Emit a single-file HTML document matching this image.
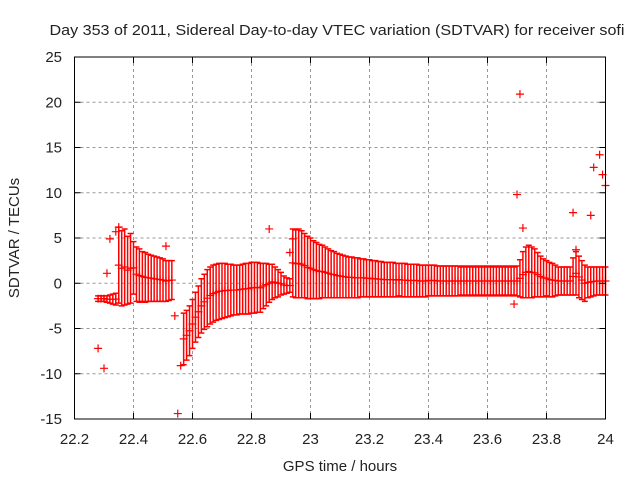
<!DOCTYPE html>
<html><head><meta charset="utf-8"><style>
body{margin:0;background:#fff}
svg{display:block;font-family:"Liberation Sans",sans-serif}
</style></head><body>
<svg id="c" width="640" height="480" xmlns="http://www.w3.org/2000/svg">
<text x="337" y="35" font-size="15" text-anchor="middle" textLength="575" lengthAdjust="spacingAndGlyphs" fill="#222">Day 353 of 2011, Sidereal Day-to-day VTEC variation (SDTVAR) for receiver sofi</text>
<text x="340" y="471" font-size="15" text-anchor="middle" fill="#222">GPS time / hours</text>
<text transform="translate(19,238) rotate(-90)" font-size="15" text-anchor="middle" fill="#222">SDTVAR / TECUs</text>
<g id="grid"></g>
<g id="marks"></g>
<rect x="74.5" y="57" width="531" height="362" fill="none" stroke="#000" stroke-width="1"/>
<g id="ticks"></g>
</svg>
<script>
const xTicks=[22.2,22.4,22.6,22.8,23,23.2,23.4,23.6,23.8,24];
const xTickLabels=["22.2","22.4","22.6","22.8","23","23.2","23.4","23.6","23.8","24"];
const yTicks=[-15,-10,-5,0,5,10,15,20,25];
const flatX=[22.28,22.29,22.30,22.31,22.32,22.33,22.34];
const flatHi=[-1.4,-1.4,-1.4,-1.4,-1.3,-1.2,-1.1];
const flatLo=[-2.0,-2.0,-2.0,-2.1,-2.2,-2.3,-2.4];
const seg1X=[22.35,22.37,22.39,22.41,22.43,22.45,22.47,22.49,22.51,22.53];
const seg1Hi=[6.2,6.0,5.5,4.0,3.5,3.2,3.0,2.8,2.5,2.5];
const seg1Lo=[-2.2,-2.4,-2.2,-2.0,-2.0,-2.0,-2.0,-2.0,-2.0,-1.8];
const seg1bX=[22.36,22.38,22.40,22.42,22.44,22.46,22.48,22.50,22.52];
const seg1bHi=[5.8,5.2,4.6,3.8,3.4,3.1,2.9,2.7,2.5];
const seg1bLo=[-2.5,-2.3,-1.2,-2.1,-2.1,-2.0,-2.0,-2.0,-1.9];
const seg2X=[22.57,22.59,22.61,22.63,22.65,22.67,22.69,22.71,22.73,22.75,22.77,22.79,22.81,22.83,22.85,22.87,22.89,22.91,22.93];
const seg2Hi=[-3.3,-2.5,-1.0,0.5,1.5,2.0,2.2,2.2,2.1,2.0,2.1,2.2,2.3,2.2,2.2,2.1,1.5,0.8,0.5];
const seg2Lo=[-9,-8,-6.5,-5.5,-4.8,-4.3,-4.0,-3.8,-3.6,-3.5,-3.4,-3.4,-3.3,-3.2,-2.5,-1.8,-1.5,-1.2,-1.0];
const seg2bX=[22.58,22.60,22.62,22.64,22.66,22.68,22.70,22.72,22.74,22.76,22.78,22.80,22.82,22.84,22.86,22.88,22.90,22.92];
const seg2bHi=[-3.0,-1.8,-0.3,1.0,1.8,2.1,2.2,2.1,2.0,2.0,2.2,2.3,2.3,2.2,2.1,1.8,1.2,0.6];
const seg2bLo=[-8.5,-7.2,-6.0,-5.1,-4.5,-4.1,-3.9,-3.7,-3.5,-3.4,-3.4,-3.3,-3.2,-2.8,-2.1,-1.6,-1.3,-1.1];
const seg3X=[22.94,22.96,22.98,23.00,23.02,23.04,23.06,23.08,23.10,23.12,23.14,23.16,23.18,23.20,23.22,23.24,23.26,23.28,23.30,23.32,23.34,23.36,23.38,23.40,23.42,23.44,23.46,23.48,23.50,23.52,23.54,23.56,23.58,23.60,23.62,23.64,23.66,23.68,23.70,23.72,23.74,23.76,23.78,23.80,23.82,23.84,23.86,23.88,23.90,23.92,23.94,23.96,23.98,24.00];
const seg3Hi=[6,6,5.5,5,4.5,4.2,3.8,3.5,3.2,3,2.9,2.8,2.7,2.6,2.5,2.4,2.3,2.3,2.2,2.2,2.1,2.1,2.0,2.0,2.0,1.9,1.9,1.9,1.9,1.9,1.9,1.9,1.9,1.9,1.9,1.9,1.9,1.9,1.9,3.5,4.2,3.8,3.0,2.5,2.2,1.8,1.8,1.8,3.5,2.5,1.8,1.8,1.8,1.8];
const seg3Lo=[-1.5,-1.6,-1.6,-1.7,-1.7,-1.6,-1.6,-1.6,-1.6,-1.6,-1.6,-1.6,-1.5,-1.5,-1.5,-1.5,-1.5,-1.5,-1.4,-1.5,-1.5,-1.5,-1.5,-1.4,-1.4,-1.4,-1.4,-1.4,-1.4,-1.4,-1.4,-1.4,-1.4,-1.4,-1.4,-1.4,-1.4,-1.4,-1.4,-1.6,-1.6,-1.5,-1.5,-1.4,-1.5,-1.3,-1.3,-1.3,-1.3,-1.8,-1.6,-1.4,-1.3,-1.3];
const seg3bX=[22.95,22.97,22.99,23.01,23.03,23.05,23.07,23.09,23.11,23.13,23.15,23.17,23.19,23.21,23.23,23.25,23.27,23.29,23.31,23.33,23.35,23.37,23.39,23.41,23.43,23.45,23.47,23.49,23.51,23.53,23.55,23.57,23.59,23.61,23.63,23.65,23.67,23.69,23.71,23.73,23.75,23.77,23.79,23.81,23.83,23.85,23.87,23.89,23.91,23.93,23.95,23.97,23.99];
const seg3bHi=[5.9,5.8,5.2,4.7,4.3,4.0,3.6,3.3,3.1,2.9,2.8,2.7,2.6,2.5,2.4,2.3,2.3,2.2,2.2,2.1,2.1,2.0,2.0,2.0,1.9,1.9,1.9,1.9,1.8,1.8,1.8,1.8,1.8,1.8,1.8,1.8,1.8,1.8,2.6,4.0,4.0,3.4,2.7,2.3,2.0,1.8,1.8,2.8,3.0,2.0,1.8,1.8,1.8];
const seg3bLo=[-1.6,-1.6,-1.7,-1.7,-1.7,-1.6,-1.6,-1.6,-1.6,-1.6,-1.6,-1.5,-1.5,-1.5,-1.5,-1.5,-1.5,-1.5,-1.5,-1.5,-1.5,-1.5,-1.5,-1.4,-1.4,-1.4,-1.4,-1.4,-1.3,-1.3,-1.3,-1.3,-1.3,-1.3,-1.3,-1.3,-1.3,-1.3,-1.5,-1.6,-1.6,-1.5,-1.5,-1.5,-1.4,-1.3,-1.3,-1.3,-1.6,-2.0,-1.5,-1.3,-1.3];
const outX=[22.28,22.30,22.31,22.32,22.34,22.35,22.51,22.54,22.55,22.56,22.86,22.93,22.94,23.69,23.70,23.71,23.72,23.89,23.90,23.95,23.96,23.98,23.99,24.0];
const outY=[-7.2,-9.4,1.1,4.9,5.7,6.2,4.1,-3.6,-14.4,-9.1,6.0,3.4,4.9,-2.3,9.8,20.9,6.1,7.8,3.7,7.5,12.8,14.2,12.0,10.8];

const X0=74.5,X1=605.5,Y0=419,Y1=57;
const sx=v=>X0+(v-22.2)/(24-22.2)*(X1-X0);
const sy=v=>Y0-(v+15)/40*(Y0-Y1);
const NS="http://www.w3.org/2000/svg";
function mk(tag,at,parent){const e=document.createElementNS(NS,tag);for(const k in at)e.setAttribute(k,at[k]);parent.appendChild(e);return e;}
const grid=document.getElementById('grid'),ticks=document.getElementById('ticks'),marks=document.getElementById('marks');
xTicks.forEach((t,i)=>{const x=sx(t);
 if(i>0&&i<xTicks.length-1){const g=mk('line',{x1:x,x2:x,y1:Y1,y2:Y0,stroke:'#999','stroke-dasharray':'3,3'},grid);
 
 }
 mk('line',{x1:x,x2:x,y1:Y0,y2:Y0-6,stroke:'#000'},ticks);mk('line',{x1:x,x2:x,y1:Y1,y2:Y1+6,stroke:'#000'},ticks);
 const l=mk('text',{x:x,y:444,'font-size':15,'text-anchor':'middle',fill:'#222'},ticks);l.textContent=xTickLabels[i];
 
 });
yTicks.forEach((t,i)=>{const y=sy(t);
 if(i>0&&i<yTicks.length-1){const g=mk('line',{x1:X0,x2:X1,y1:y,y2:y,stroke:'#999','stroke-dasharray':'3,3'},grid);
 
 }
 mk('line',{x1:X0,x2:X0+6,y1:y,y2:y,stroke:'#000'},ticks);mk('line',{x1:X1,x2:X1-6,y1:y,y2:y,stroke:'#000'},ticks);
 const l=mk('text',{x:62,y:y+5,'font-size':15,'text-anchor':'end',fill:'#222'},ticks);l.textContent=String(t);
 
 });
function plus(x,y){const p=mk('path',{d:`M${x-4},${y}h8M${x},${y-4}v8`,stroke:'#f00','stroke-width':1.2},marks);
 
 }
function bars(xs,hi,lo){xs.forEach((v,i)=>{const x=sx(v),a=sy(hi[i]),b=sy(lo[i]);
 const p=mk('path',{d:`M${x},${a}V${b}M${x-3},${a}h6M${x-3},${b}h6`,stroke:'#f00','stroke-width':1.5,fill:'none'},marks);
 
 
 plus(x,sy((hi[i]+lo[i])/2));});}
bars(flatX,flatHi,flatLo);bars(seg1X,seg1Hi,seg1Lo);bars(seg1bX,seg1bHi,seg1bLo);
bars(seg2X,seg2Hi,seg2Lo);bars(seg2bX,seg2bHi,seg2bLo);
bars(seg3X,seg3Hi,seg3Lo);bars(seg3bX,seg3bHi,seg3bLo);
outX.forEach((v,i)=>plus(sx(v),sy(outY[i])));
</script>
</body></html>
